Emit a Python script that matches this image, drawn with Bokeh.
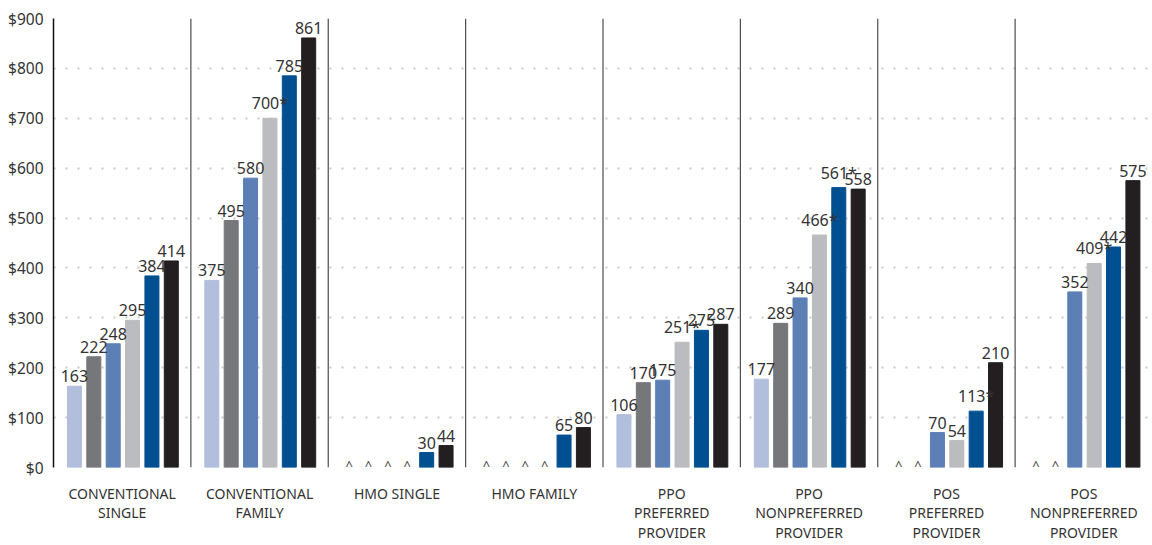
from bokeh.plotting import figure
from bokeh.models import ColumnDataSource, Range1d, FixedTicker, Span
from bokeh.core.properties import value
from bokeh.embed import file_html
from bokeh.resources import INLINE

# Plan types (groups) and the six bars shown in each group
groups = [
    "CONVENTIONAL\nSINGLE", "CONVENTIONAL\nFAMILY", "HMO SINGLE", "HMO FAMILY",
    "PPO\nPREFERRED\nPROVIDER", "PPO\nNONPREFERRED\nPROVIDER",
    "POS\nPREFERRED\nPROVIDER", "POS\nNONPREFERRED\nPROVIDER",
]
series_colors = ["#b1bedc", "#76777b", "#5c7fb5", "#bbbcc0", "#005091", "#231f20"]

# Values per group (None = not available, shown as ^)
values = [
    [163, 222, 248, 295, 384, 414],
    [375, 495, 580, 700, 785, 861],
    [None, None, None, None, 30, 44],
    [None, None, None, None, 65, 80],
    [106, 170, 175, 251, 275, 287],
    [177, 289, 340, 466, 561, 558],
    [None, None, 70, 54, 113, 210],
    [None, None, 352, 409, 442, 575],
]
# Statistically significant change markers (*)
starred = [
    [0, 0, 0, 0, 0, 0],
    [0, 0, 0, 1, 0, 0],
    [0, 0, 0, 0, 0, 0],
    [0, 0, 0, 0, 0, 0],
    [0, 0, 0, 1, 0, 0],
    [0, 0, 0, 1, 1, 0],
    [0, 0, 0, 0, 1, 0],
    [0, 0, 0, 1, 0, 0],
]
y_ticks = [0, 100, 200, 300, 400, 500, 600, 700, 800, 900]

PITCH = 0.141
BAR_W = 0.102

bx, btop, bcol, lbl = [], [], [], []
cx = []
for gi, row in enumerate(values):
    for si, v in enumerate(row):
        x = gi + 0.505 + (si - 2.5) * PITCH
        if v is None:
            cx.append(x)
            continue
        bx.append(x)
        btop.append(v)
        bcol.append(series_colors[si])
        lbl.append(f"{v}*" if starred[gi][si] else f"{v}")

bars = ColumnDataSource(dict(x=bx, top=btop, color=bcol, label=lbl))
carets = ColumnDataSource(dict(x=cx, y=[0] * len(cx), t=["^"] * len(cx)))

FONT = "Noto Sans"

p = figure(width=1152, height=545, output_backend="svg", toolbar_location=None,
           x_range=Range1d(0, 8), y_range=Range1d(0, 900),
           min_border_left=53, min_border_right=0, min_border_top=18,
           min_border_bottom=78)
p.outline_line_color = None
p.background_fill_color = "white"
p.border_fill_color = "white"

# dotted horizontal gridlines
p.xgrid.grid_line_color = None
p.ygrid.ticker = FixedTicker(ticks=y_ticks)
p.ygrid.grid_line_color = "#c9c9c9"
p.ygrid.grid_line_width = 2
p.ygrid.grid_line_dash = "2 10"

# group separators
for gi in range(1, len(groups)):
    p.add_layout(Span(location=gi, dimension="height", line_color="#4d4d4d",
                      line_width=1.2))

p.vbar(x="x", top="top", bottom=0, width=BAR_W, color="color", source=bars)
p.text(x="x", y="top", text="label", source=bars, text_align="center",
       text_baseline="bottom", y_offset=-4, text_font=value(FONT),
       text_font_size="16px", text_color="#333333")
p.text(x="x", y="y", text="t", source=carets, text_align="center",
       text_baseline="bottom", y_offset=6, text_font=value(FONT),
       text_font_size="13px", text_color="#444444")

# y axis
p.yaxis.ticker = FixedTicker(ticks=y_ticks)
p.yaxis.major_label_overrides = {t: f"${t}" for t in y_ticks}
p.yaxis.major_tick_line_color = None
p.yaxis.minor_tick_line_color = None
p.yaxis.axis_line_color = "#111111"
p.yaxis.axis_line_width = 1.5
p.yaxis.major_label_standoff = 4
p.yaxis.major_label_text_font = FONT
p.yaxis.major_label_text_font_size = "15.5px"
p.yaxis.major_label_text_color = "#333333"

# x axis with group names
centers = [gi + 0.5 for gi in range(len(groups))]
p.xaxis.ticker = FixedTicker(ticks=centers)
p.xaxis.major_label_overrides = {c: g for c, g in zip(centers, groups)}
p.xaxis.axis_line_color = None
p.xaxis.major_tick_line_color = None
p.xaxis.minor_tick_line_color = None
p.xaxis.major_label_standoff = 10
p.xaxis.major_label_text_font = FONT
p.xaxis.major_label_text_font_size = "14px"
p.xaxis.major_label_text_color = "#333333"
p.xaxis.major_label_text_line_height = 1.05

open("out.html", "w").write(file_html(p, INLINE))
